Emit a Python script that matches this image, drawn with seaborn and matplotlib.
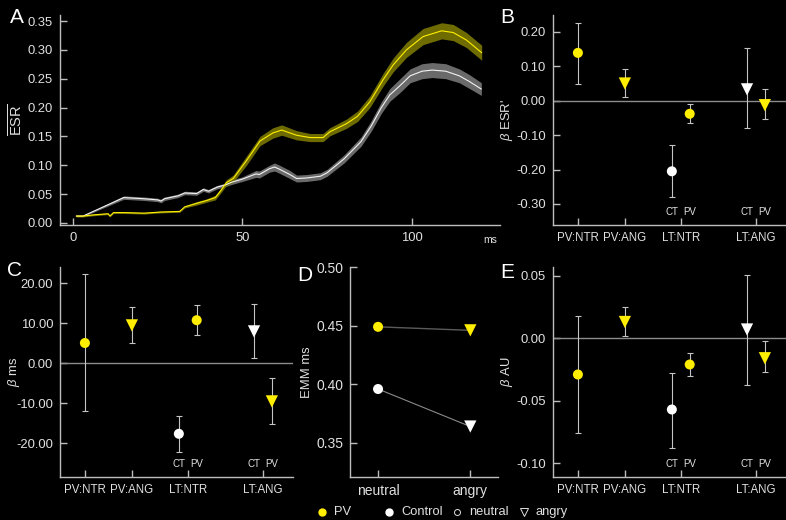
import numpy as np
import pandas as pd
import matplotlib
matplotlib.use("Agg")
import matplotlib.pyplot as plt
import seaborn as sns
from matplotlib.lines import Line2D
from matplotlib.transforms import blended_transform_factory

# ---------------- data ----------------
# Panel A: mean ESR time courses (ms) with band half-widths
ms_ct = [1, 3, 15, 18, 21, 25, 26, 27, 31, 33, 36.5, 38.5, 40, 42.5, 45, 47, 50, 54, 55, 58,
         59.5, 61, 64, 66, 69, 73, 75, 80, 85, 88, 91, 93.5, 96.5, 99.5, 103, 106, 110, 114, 117, 120.5]
esr_ct = [0.012, 0.012, 0.044, 0.043, 0.042, 0.040, 0.038, 0.042, 0.047, 0.052,
          0.051, 0.058, 0.055, 0.062, 0.066, 0.071, 0.076, 0.085, 0.084, 0.094,
          0.097, 0.093, 0.084, 0.077, 0.078, 0.081, 0.087, 0.111, 0.141, 0.168,
          0.200, 0.222, 0.238, 0.255, 0.263, 0.265, 0.263, 0.255, 0.245, 0.232]
band_ct = [0.001, 0.001, 0.003, 0.003, 0.003, 0.003, 0.003, 0.003, 0.003, 0.003,
           0.003, 0.003, 0.003, 0.003, 0.003, 0.004, 0.004, 0.006, 0.006, 0.006,
           0.007, 0.007, 0.007, 0.006, 0.006, 0.006, 0.006, 0.007, 0.008, 0.009,
           0.010, 0.011, 0.012, 0.012, 0.013, 0.013, 0.013, 0.012, 0.012, 0.011]

ms_pv = [1, 3, 6, 10.4, 10.9, 12, 15, 21, 26, 31.5, 33, 36.5, 39.5, 42, 43.5, 45.3, 47.3, 51.2,
         55.2, 59, 61.6, 66, 70, 73.8, 75.8, 80.7, 84, 87.6, 91.5, 94.5, 98.4, 103.3, 108.8,
         112.2, 116.1, 120.6]
esr_pv = [0.012, 0.012, 0.014, 0.016, 0.012, 0.018, 0.018, 0.017, 0.019, 0.020,
          0.028, 0.034, 0.039, 0.044, 0.055, 0.070, 0.077, 0.108, 0.142, 0.156,
          0.161, 0.152, 0.148, 0.148, 0.158, 0.172, 0.185, 0.210, 0.248, 0.274,
          0.300, 0.323, 0.333, 0.330, 0.317, 0.295]
band_pv = [0.0015, 0.0015, 0.0015, 0.0015, 0.0015, 0.0015, 0.0015, 0.0015, 0.0015, 0.0015,
           0.002, 0.003, 0.003, 0.004, 0.004, 0.005, 0.006, 0.008, 0.008, 0.009,
           0.009, 0.008, 0.007, 0.007, 0.007, 0.008, 0.009, 0.010, 0.011, 0.012,
           0.013, 0.014, 0.014, 0.014, 0.013, 0.013]

# Panels B, C, E: coefficients (order: PV:NTR, PV:ANG, LT:NTR CT, LT:NTR PV, LT:ANG CT, LT:ANG PV)
coef_labels = ['PV:NTR', 'PV:ANG', 'LT:NTR', 'LT:ANG']
point_group = ['PV', 'PV', 'Control', 'PV', 'Control', 'PV']
point_emotion = ['neutral', 'angry', 'neutral', 'neutral', 'angry', 'angry']

esr_beta = [0.139, 0.050, -0.205, -0.038, 0.033, -0.013]
esr_lo = [0.050, 0.010, -0.280, -0.066, -0.080, -0.054]
esr_hi = [0.227, 0.091, -0.129, -0.009, 0.152, 0.033]

ms_beta = [5.0, 9.4, -17.7, 10.7, 7.9, -9.6]
ms_lo = [-12.0, 5.0, -22.2, 6.9, 1.2, -15.3]
ms_hi = [22.2, 14.0, -13.3, 14.6, 14.7, -3.8]

au_beta = [-0.029, 0.013, -0.057, -0.021, 0.007, -0.016]
au_lo = [-0.076, 0.002, -0.088, -0.030, -0.037, -0.027]
au_hi = [0.018, 0.025, -0.028, -0.012, 0.051, -0.002]

# Panel D: estimated marginal means
emm_emotion = ['neutral', 'angry']
emm_pv = [0.449, 0.446]
emm_ct = [0.396, 0.364]

legend_labels = ['PV', 'Control', 'neutral', 'angry']

# ---------------- style ----------------
sns.set_style("ticks")
plt.rcParams['font.family'] = ['Liberation Sans', 'DejaVu Sans']
plt.rcParams['axes.unicode_minus'] = False
plt.rcParams['mathtext.fontset'] = 'custom'
plt.rcParams['mathtext.rm'] = 'Liberation Sans'
plt.rcParams['mathtext.it'] = 'Liberation Sans:italic'

BG = 'black'
FG = '#e0e0e0'
SPINE = '#bdbdbd'
YEL = '#ffee00'
YEL_BAND = '#6e6c00'
GRAY_BAND = '#6a6a6a'
ERR = '#c4c4c4'
ZERO = '#8c8c8c'
FS = 9.4

W, H = 786, 520
fig = plt.figure(figsize=(W / 100, H / 100), dpi=100, facecolor=BG)


def add_ax(l, t, r, b):
    return fig.add_axes([l / W, 1 - b / H, (r - l) / W, (b - t) / H])


def style(ax):
    ax.set_facecolor(BG)
    for s in ['top', 'right']:
        ax.spines[s].set_visible(False)
    for s in ['left', 'bottom']:
        ax.spines[s].set_color(SPINE)
        ax.spines[s].set_linewidth(1.0)
    ax.tick_params(direction='in', length=5, width=1, color=SPINE,
                   labelcolor=FG, labelsize=FS, pad=5)
    ax.grid(False)


# ---------------- Panel A ----------------
axA = add_ax(60, 15, 500, 225)
style(axA)
axA.fill_between(ms_ct, np.array(esr_ct) - np.array(band_ct), np.array(esr_ct) + np.array(band_ct),
                 color=GRAY_BAND, lw=0, zorder=1)
axA.fill_between(ms_pv, np.array(esr_pv) - np.array(band_pv), np.array(esr_pv) + np.array(band_pv),
                 color=YEL_BAND, lw=0, zorder=1)
sns.lineplot(x=ms_ct, y=esr_ct, ax=axA, color='#f2f2f2', lw=0.8, zorder=3)
sns.lineplot(x=ms_pv, y=esr_pv, ax=axA, color=YEL, lw=0.8, zorder=4)
axA.set_xlim(-3.8, 126)
axA.set_ylim(-0.0035, 0.3604)
axA.set_xticks([0, 50, 100])
yA = [0, 0.05, 0.10, 0.15, 0.20, 0.25, 0.30, 0.35]
axA.set_yticks(yA)
axA.set_yticklabels([f"{v:.2f}" for v in yA])
axA.set_xlabel('')
axA.set_ylabel(r'$\overline{\mathrm{ESR}}$', color=FG, fontsize=10.5)
axA.yaxis.set_label_coords(-0.078, 0.5)
fig.text(490 / W, 1 - 240 / H, 'ms', color=FG, fontsize=7.5, ha='center', va='center')

# ---------------- coefficient panels ----------------
POS = [0, 1, 2, 2.38, 3.6, 3.98]
TICKS = [0, 1, 2.19, 3.79]
XLIM = (-0.53, 4.43)


def coef_panel(ax, est, lo, hi, ylim, yticks, fmt, ylabel):
    style(ax)
    est = np.array(est); lo = np.array(lo); hi = np.array(hi)
    ax.axhline(0, color=ZERO, lw=1.0, zorder=1)
    ax.errorbar(POS, est, yerr=[est - lo, hi - est], fmt='none', ecolor=ERR,
                elinewidth=0.8, capsize=2.3, capthick=0.8, zorder=2)
    df = pd.DataFrame(dict(x=POS, y=est, grp=point_group, emo=point_emotion))
    sns.scatterplot(data=df, x='x', y='y', hue='grp', style='emo', size='emo',
                    palette={'PV': YEL, 'Control': 'white'},
                    markers={'neutral': 'o', 'angry': 'v'},
                    sizes={'neutral': 52, 'angry': 78},
                    edgecolor='none', linewidth=0, legend=False, ax=ax, zorder=3)
    ax.set_xlim(*XLIM)
    ax.set_ylim(*ylim)
    ax.set_xticks(TICKS)
    ax.set_xticklabels(coef_labels, fontsize=8.3)
    ax.set_yticks(yticks)
    ax.set_yticklabels([fmt.format(v) for v in yticks])
    ax.set_xlabel('')
    ax.set_ylabel(ylabel, color=FG, fontsize=FS)
    ax.yaxis.set_label_coords(-0.165, 0.5)
    tr = blended_transform_factory(ax.transData, ax.transAxes)
    for x, t in zip(POS[2:], ['CT', 'PV', 'CT', 'PV']):
        ax.text(x, 0.062, t, transform=tr, ha='center', va='center', color=FG, fontsize=7.0)


axB = add_ax(553, 15, 786, 225)
coef_panel(axB, esr_beta, esr_lo, esr_hi, (-0.361, 0.249),
           [-0.3, -0.2, -0.1, 0.0, 0.1, 0.2], "{:.2f}", r"$\it{\beta}$ ESR'")

axC = add_ax(60, 267, 293, 477)
coef_panel(axC, ms_beta, ms_lo, ms_hi, (-28.5, 24.0),
           [-20, -10, 0, 10, 20], "{:.2f}", r"$\it{\beta}$ ms")

axE = add_ax(553, 267, 786, 477)
coef_panel(axE, au_beta, au_lo, au_hi, (-0.111, 0.057),
           [-0.10, -0.05, 0.0, 0.05], "{:.2f}", r"$\it{\beta}$ AU")

# ---------------- Panel D ----------------
axD = add_ax(350, 267, 498, 477)
style(axD)
xd = [0, 1]
sns.lineplot(x=xd, y=emm_pv, ax=axD, color='#5a5a5a', lw=1.0, zorder=1)
sns.lineplot(x=xd, y=emm_ct, ax=axD, color='#8a8a8a', lw=0.8, zorder=1)
dfD = pd.DataFrame(dict(x=xd + xd, y=emm_pv + emm_ct,
                        grp=['PV', 'PV', 'Control', 'Control'],
                        emo=emm_emotion + emm_emotion))
sns.scatterplot(data=dfD, x='x', y='y', hue='grp', style='emo', size='emo',
                palette={'PV': YEL, 'Control': 'white'},
                markers={'neutral': 'o', 'angry': 'v'},
                sizes={'neutral': 52, 'angry': 78},
                edgecolor='none', linewidth=0, legend=False, ax=axD, zorder=3)
axD.set_xlim(-0.304, 1.30)
axD.set_ylim(0.321, 0.50)
axD.set_xticks(xd)
axD.set_xticklabels(emm_emotion, fontsize=10)
yD = [0.35, 0.40, 0.45, 0.50]
axD.set_yticks(yD)
axD.set_yticklabels([f"{v:.2f}" for v in yD], fontsize=10)
axD.set_xlabel('')
axD.set_ylabel('EMM ms', color=FG, fontsize=FS)
axD.yaxis.set_label_coords(-0.25, 0.5)

# ---------------- panel letters ----------------
for txt, x, y in [('A', 10, 8), ('B', 500, 8), ('C', 7, 261), ('D', 297, 266), ('E', 500, 263)]:
    fig.text(x / W, 1 - y / H, txt, color='white', fontsize=15, ha='left', va='top')

# ---------------- legend (placed item by item) ----------------
leg_marks = [dict(marker='o', color=YEL, markersize=5),
             dict(marker='o', color='white', markersize=5),
             dict(marker='o', markerfacecolor='none', markeredgecolor=FG, markersize=4.3,
                  markeredgewidth=0.7),
             dict(marker='v', markerfacecolor='none', markeredgecolor=FG, markersize=6,
                  markeredgewidth=0.7)]
leg_x = [322, 389, 457, 524]
leg_y = 1 - 512 / H
for lab, mk, x in zip(legend_labels, leg_marks, leg_x):
    fig.add_artist(Line2D([x / W], [leg_y], ls='none', transform=fig.transFigure, **mk))
    fig.text((x + 12) / W, leg_y, lab, color=FG, fontsize=9.3, ha='left', va='center')

fig.savefig('out.png', dpi=100, facecolor=BG)
